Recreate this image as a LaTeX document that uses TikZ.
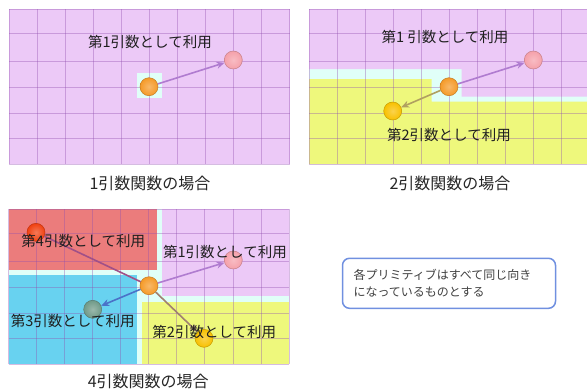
\documentclass[tikz,border=0pt]{standalone}
\usepackage{fontspec}
\newfontfamily\jp{Noto Sans CJK JP}
\usetikzlibrary{arrows.meta}
\definecolor{lav}{HTML}{ECC9F7}
\definecolor{ylw}{HTML}{EEF87C}
\definecolor{pale}{HTML}{E0FFF8}
\definecolor{redr}{HTML}{EB7C7C}
\definecolor{bluer}{HTML}{68D2F0}
\definecolor{gridc}{HTML}{9050B0}
\definecolor{orb}{HTML}{F59A28}
\definecolor{pkb}{HTML}{F5A0AA}
\definecolor{ylb}{HTML}{F8C000}
\definecolor{rdb}{HTML}{F04010}
\definecolor{gnb}{HTML}{709A88}
\definecolor{arP}{HTML}{B07CD0}
\definecolor{arY}{HTML}{B0A060}
\definecolor{arB}{HTML}{4A72C8}
\definecolor{arR}{HTML}{A05088}
\definecolor{arQ}{HTML}{A08070}
\definecolor{boxc}{HTML}{7090E0}
\tikzset{
  ballc/.style={circle, minimum size=18pt, inner sep=0pt, shading=radial,
    inner color=#1!70!white, outer color=#1, draw=#1!80!black, line width=0.5pt},
  lbl/.style={font=\jp\fontsize{14.5}{16}\selectfont, text=black!88, inner sep=0pt},
  captxt/.style={font=\jp\fontsize{16}{18}\selectfont, text=black!85, inner sep=0pt},
  arr/.style={line width=1.6pt, -{Stealth[length=8pt,width=7pt]}},
  gridl/.style={draw=gridc, draw opacity=0.38, line width=0.8pt}
}
\newcommand{\gridpanel}[2]{%
  \foreach \k in {0,...,10} {\draw[gridl] ({#1+\k*28.05},{#2}) -- ({#1+\k*28.05},{#2+155});}
  \foreach \d in {0,24.3,52,78.3,104.3,129.5,155} {\draw[gridl] ({#1},{#2+\d}) -- ({#1+280.5},{#2+\d});}
}
\begin{document}
\begin{tikzpicture}[x=1pt,y=-1pt]
\useasboundingbox (0,0) rectangle (587,389);
% ---------- panel 1
\fill[lav] (9,9) rectangle (289.5,164);
\fill[pale] (136.7,73.3) rectangle (161.7,98.3);
\gridpanel{9}{9}
\node[ballc=orb] (o1) at (149,86.7) {};
\node[ballc=pkb] (p1) at (233.3,60) {};
\draw[arr, arP] (o1) -- (p1);
\node[lbl] (t1) at (150,41.7) {第1引数として利用};
\node[captxt] (c1) at (150,183) {1引数関数の場合};
% ---------- panel 2
\fill[pale] (309,9) rectangle (589.5,164);
\fill[lav] (309,9) -- (589.5,9) -- (589.5,96.7) -- (461.7,96.7) -- (461.7,69) -- (309,69) -- cycle;
\fill[ylw] (309,79) -- (431.7,79) -- (431.7,101.7) -- (589.5,101.7) -- (589.5,164) -- (309,164) -- cycle;
\gridpanel{309}{9}
\node[ballc=orb] (o2) at (449,86.7) {};
\node[ballc=pkb] (p2) at (533.3,60) {};
\node[ballc=ylb] (y2) at (392.7,111) {};
\draw[arr, arP] (o2) -- (p2);
\draw[arr, arY] (o2) -- (y2);
\node[lbl] (t2a) at (445,37.3) {第1 引数として利用};
\node[lbl] (t2b) at (449,135) {第2引数として利用};
\node[captxt] (c2) at (450,183) {2引数関数の場合};
% ---------- panel 3
\fill[pale] (8.5,209) rectangle (289,364);
\fill[redr] (8.5,209) rectangle (157.3,270);
\fill[lav] (162.3,209) rectangle (289,295.7);
\fill[bluer] (8.5,275) rectangle (136.7,364);
\fill[ylw] (141.7,302.3) rectangle (289,364);
\gridpanel{8.5}{209}
\node[ballc=orb] (o3) at (149,285.7) {};
\node[ballc=pkb] (p3) at (233.3,260) {};
\node[ballc=rdb] (r3) at (36,232.3) {};
\node[ballc=gnb] (g3) at (92.7,309.3) {};
\node[ballc=ylb] (y3) at (204,338.3) {};
\draw[line width=1.6pt, arR] (o3) -- (r3);
\draw[arr, arP] (o3) -- (p3);
\draw[arr, arB] (o3) -- (g3);
\draw[arr, arQ] (o3) -- (y3);
\node[lbl] (t3d) at (83.3,240.7) {第4引数として利用};
\node[lbl] (t3a) at (225,252.3) {第1引数として利用};
\node[lbl] (t3c) at (72.7,320.7) {第3引数として利用};
\node[lbl] (t3b) at (214.3,332.3) {第2引数として利用};
\node[captxt] (c3) at (148.3,381) {4引数関数の場合};
% ---------- note
\node[draw=boxc, line width=1.5pt, rounded corners=7pt, minimum width=213pt, minimum height=50pt,
      fill=white] (note) at (449,283.3) {};
\node[anchor=west, inner sep=0pt, align=left, font=\jp\fontsize{12}{16.7}\selectfont, text=black!75]
  (notet) at (353.3,283.3) {各プリミティブはすべて同じ向き\\になっているものとする};
\end{tikzpicture}
\end{document}
